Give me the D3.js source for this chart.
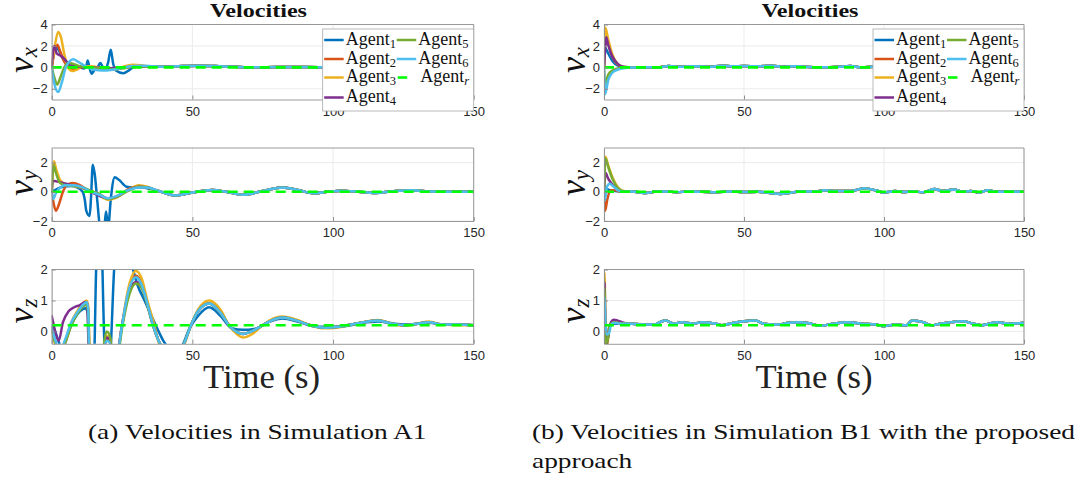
<!DOCTYPE html>
<html><head><meta charset="utf-8">
<script src="https://cdn.jsdelivr.net/npm/d3@7"></script>
<style>html,body{margin:0;padding:0;background:#fff;overflow:hidden}</style>
</head><body>
<script>
// ---------------- DATA ----------------
const xTicks = [0, 50, 100, 150];
const yTicksVx = [-2, 0, 2, 4];
const yTicksVy = [-2, 0, 2];
const yTicksVz = [0, 1, 2];
const legendSubs = ["1", "2", "3", "4", "5", "6", "r"];
const titleText = "Velocities";
const xLabelText = "Time (s)";
const captionA = "(a) Velocities in Simulation A1";
const captionB1 = "(b) Velocities in Simulation B1 with the proposed";
const captionB2 = "approach";

// reference agent (dashed green)
const refVx = [[0, 0], [150, 0]];
const refVy = [[0, 0], [150, 0]];
const refVz = [[0, 0.2], [150, 0.2]];

// ---- Simulation A1: v_x ----
const A_vx_tail = [[40,0.05],[45,0.1],[52,0.15],[58,0.12],[65,0.05],[72,0.0],[80,0.03],[90,0.04],[100,0.0],[110,0.02],[120,0.0],[130,0.01],[140,0.0],[150,0.0]];
const A_vx_1 = [[0,0],[0.7,1.2],[1.5,2.0],[2.5,1.6],[4,0.8],[6,0.3],[8,0.1],[10,0],[11.5,-0.1],[12.3,0.1],[12.8,0.65],[13.4,0.0],[14.2,-0.6],[15,-0.3],[16,-0.15],[17.3,0.4],[18,0.1],[19,-0.1],[20,0.4],[21,1.65],[21.8,0.4],[22.8,-0.3],[25.5,-0.55],[27.3,-0.3],[29,0.0],[32,0.1],[36,0.05]];
const A_vx_2 = [[0,0],[0.8,1.2],[2,2.1],[3,1.5],[4.5,0.5],[6,0.0],[7.5,-0.2],[9,-0.1],[12,0.05],[15,0.0],[20,-0.1],[25,0.0],[30,0.1],[35,0.08]];
const A_vx_3 = [[0,0],[1,1.8],[2.3,3.3],[3.3,2.8],[4.5,1.2],[6,-0.1],[7.5,-0.35],[9,-0.2],[11,0.1],[14,0.1],[18,-0.1],[22,-0.2],[26,0.1],[29,0.25],[33,0.15],[37,0.05]];
const A_vx_4 = [[0,0],[0.5,1.5],[1,2.0],[1.8,1.3],[3,1.1],[4.5,0.8],[6,0.3],[7.5,0.1],[10,0.05],[14,0.0],[20,-0.1],[26,0.0],[32,0.1],[37,0.05]];
const A_vx_5 = [[0,0],[1,-1.0],[2,-1.6],[3,-1.0],[4.5,0.0],[6,0.4],[8,0.3],[10,0.1],[14,0.0],[20,-0.2],[25,-0.1],[30,0.1],[36,0.05]];
const A_vx_6 = [[0,0],[1,-1.6],[2.3,-2.3],[3.5,-1.5],[5,0.0],[6.5,0.6],[7.7,0.75],[9.5,0.5],[12,0.1],[15,-0.2],[18,-0.3],[21,-0.25],[24,-0.1],[28,0.1],[32,0.15],[36,0.1]];

// ---- Simulation A1: v_y ----
const A_vy_tail = [[38,0.05],[44,-0.25],[50,-0.05],[57,0.12],[62,0.0],[68,-0.2],[75,0.05],[82,0.3],[88,0.1],[93,-0.1],[98,0.0],[103,0.08],[109,0.0],[115,-0.08],[121,0.03],[128,0.1],[135,0.02],[142,0.0],[150,0.0]];
const A_vy_1 = [[0,0],[2,0.2],[4,0.35],[7,0.4],[9,0.3],[11,0.0],[11.8,-0.6],[12.3,-1.3],[13.5,-1.65],[14,-0.3],[14.6,1.85],[15.3,1.2],[16.2,-0.6],[17.2,-2.4],[18.6,-2.6],[19.3,-1.35],[20.1,-2.4],[21,-0.5],[22.4,1.0],[24,0.8],[26.6,0.35],[29,0.3],[32,0.3],[35,0.2]];
const A_vy_2 = [[0,0],[0.7,-0.8],[1.5,-1.3],[2.5,-0.9],[4,0.0],[5.5,0.5],[7.5,0.6],[10,0.45],[12,0.2],[14,-0.05],[16,-0.1],[18,-0.3],[20,-0.5],[22,-0.4],[25,-0.1],[28,0.25],[31,0.35],[34,0.3]];
const A_vy_3 = [[0,0],[0.8,2.1],[1.5,1.6],[3,0.8],[5,0.5],[8,0.4],[10,0.3],[13,0.1],[16,-0.1],[20,-0.55],[23,-0.4],[27,0.1],[31,0.45],[34,0.35]];
const A_vy_4 = [[0,0],[0.4,0.75],[2,0.7],[4,0.6],[6,0.5],[9,0.4],[12,0.2],[15,-0.1],[20,-0.45],[23,-0.35],[27,0.1],[31,0.35],[34,0.3]];
const A_vy_5 = [[0,0],[0.7,1.8],[1.5,1.3],[3,0.6],[5,0.45],[8,0.4],[11,0.3],[14,0.05],[17,-0.15],[20,-0.5],[23,-0.35],[27,0.05],[31,0.35],[34,0.3]];
const A_vy_6 = [[0,0],[0.5,-0.5],[1.5,-0.1],[3,0.3],[5,0.45],[8,0.45],[11,0.3],[14,0.0],[17,-0.2],[20,-0.45],[23,-0.3],[27,0.1],[31,0.3],[34,0.3]];

// ---- Simulation A1: v_z ----
const A_vz_tailMid = [[38,-0.3],[41,-0.7],[44,-0.8],[47,-0.4],[49.5,0.2],[52,0.65],[56,0.9],[60,0.6],[63,0.2],[66,-0.03],[68,-0.08],[71,0.0],[75,0.2],[78,0.35],[82,0.45],[87,0.35],[92,0.2],[97,0.12],[102,0.15],[108,0.25],[116,0.35],[121,0.25],[125,0.2],[130,0.25],[134,0.3],[139,0.22],[145,0.22],[150,0.2]];
const A_vz_tailBig = [[38,-0.35],[41,-0.8],[44,-0.9],[47,-0.45],[49.5,0.2],[52,0.7],[56,1.0],[60,0.7],[63,0.2],[66,-0.1],[68,-0.2],[71,-0.1],[75,0.2],[78,0.38],[82,0.48],[87,0.38],[92,0.2],[97,0.1],[102,0.13],[108,0.25],[116,0.37],[121,0.25],[125,0.18],[130,0.25],[134,0.32],[139,0.22],[145,0.2],[150,0.2]];
const A_vz_tailSmall = [[38,0.0],[40,-0.35],[43,-0.6],[46,-0.5],[49,0.1],[52,0.5],[56,0.78],[60,0.5],[64,0.1],[68,0.05],[72,0.08],[77,0.3],[82,0.42],[88,0.3],[94,0.15],[98,0.15],[104,0.17],[110,0.27],[116,0.32],[122,0.25],[126,0.22],[131,0.25],[134,0.28],[140,0.22],[145,0.22],[150,0.2]];
const A_vz_1 = [[0,0.2],[1,0.05],[2,-0.2],[3,-0.45],[4,-0.55],[6,0.0],[8,0.4],[10,0.65],[12,0.75],[12.8,0.6],[13.4,-0.7],[15,-0.9],[15.9,2.3],[17.4,3.6],[18.9,-0.6],[20.5,-1.0],[22.4,2.3],[24.5,3.3],[27,2.6],[28.9,2.0],[30.5,1.5],[33,1.0],[35.5,0.5]];
const A_vz_2 = [[0,0.1],[1,-0.25],[2.5,-0.6],[5,-0.3],[7,0.25],[9,0.6],[11,0.85],[12.4,0.92],[13,0.7],[13.4,-0.6],[18,-0.7],[19.6,-0.25],[20.6,-0.3],[21.5,-0.7],[23,-0.8],[25,0.2],[27,1.2],[30,1.8],[32,1.55],[34,0.9],[36,0.2]];
const A_vz_3 = [[0,0.0],[1,-0.35],[2.5,-0.7],[5,-0.3],[7,0.3],[9,0.65],[11,0.9],[12.4,1.0],[13,0.8],[13.5,-0.6],[18,-0.7],[19.7,-0.15],[20.7,-0.2],[21.5,-0.7],[23,-0.8],[25,0.2],[27,1.3],[30,1.95],[32,1.7],[34,1.0],[36.5,0.2]];
const A_vz_4 = [[0,0.5],[0.5,0.3],[1.5,-0.1],[2.5,-0.3],[4,0.3],[6,0.65],[8,0.78],[10,0.85],[12,0.95],[12.6,0.9],[13.2,-0.6],[18,-0.7],[19.6,-0.2],[20.6,-0.25],[21.5,-0.7],[23,-0.8],[25,0.2],[27,1.1],[30,1.6],[32,1.45],[34,0.85],[36,0.2]];
const A_vz_5 = [[0,0.0],[1,-0.3],[2.5,-0.6],[5,-0.3],[7,0.2],[9,0.55],[11,0.8],[12.4,0.85],[13,0.6],[13.4,-0.6],[18,-0.6],[19.5,0.0],[20.5,-0.1],[21.5,-0.6],[23.5,-0.7],[25,0.1],[27,1.0],[30,1.55],[32,1.4],[34,0.85],[36,0.2]];
const A_vz_6 = [[0,0.1],[1,-0.2],[2,-0.45],[3.5,-0.5],[5,-0.2],[7,0.3],[9,0.6],[11,0.85],[12.4,0.95],[13,0.7],[13.3,-0.6],[18,-0.7],[19.5,-0.3],[20.5,-0.35],[21.5,-0.7],[23,-0.8],[25,0.2],[27,1.2],[30,1.75],[32,1.5],[34,0.9],[36,0.2]];

// ---- Simulation B1: v_x ----
const B_vx_tail = [[10,-0.02],[15,0.0],[20,0.02],[23,0.12],[27,0.05],[32,0.1],[38,0.05],[42,0.15],[46,0.1],[50,0.12],[55,0.1],[60,0.15],[64,0.05],[68,0.1],[72,0.05],[78,0.0],[84,0.05],[88,0.12],[92,0.0],[97,0.05],[103,-0.02],[108,0.05],[112,0.0],[118,0.08],[124,0.0],[130,0.05],[136,0.0],[142,0.05],[150,0.0]];
const B_vx_1 = [[0,0],[0.4,1.8],[1.5,1.3],[3,0.6],[5,0.15],[7,0.0]];
const B_vx_2 = [[0,0],[0.5,3.0],[1.5,2.2],[3,1.0],[5,0.25],[7,0.02]];
const B_vx_3 = [[0,0],[0.5,3.7],[1.5,2.6],[3,1.2],[5,0.3],[7,0.05]];
const B_vx_4 = [[0,0],[0.4,1.7],[0.8,2.8],[1.5,2.1],[3,1.0],[5,0.3],[7,0.05]];
const B_vx_5 = [[0,0],[0.4,-1.5],[1.5,-0.7],[3,-0.3],[5,-0.1],[7.5,0.0]];
const B_vx_6 = [[0,0],[0.4,-2.5],[1.5,-1.2],[3,-0.5],[5,-0.2],[7.5,-0.05]];

// ---- Simulation B1: v_y ----
const B_vy_tail = [[10,0.02],[13,-0.05],[15,-0.08],[18,0],[22,0.02],[26,-0.03],[30,0.02],[35,0],[40,-0.03],[45,0.02],[50,-0.02],[55,0],[60,-0.1],[63,-0.15],[66,-0.08],[70,0.02],[75,0.02],[79,0.1],[83,0.05],[88,0.05],[93,0.25],[97,0.1],[100,-0.05],[104,0.05],[107,-0.02],[110,0.02],[114,-0.03],[118,0.2],[121,0.05],[125,0.15],[128,0],[131,0.05],[134,-0.05],[137,0.1],[140,0],[145,0.02],[150,0]];
const B_vy_1 = [[0,0],[0.4,0.3],[1.5,0.15],[4,0.05],[7,0.0]];
const B_vy_2 = [[0,0],[0.4,-1.3],[1.2,-0.5],[2.5,0.1],[4,0.1],[6,0.0]];
const B_vy_3 = [[0,0],[0.5,2.4],[1.5,1.8],[3,1.0],[5,0.3],[7,0.05]];
const B_vy_4 = [[0,0],[0.5,1.3],[1.5,0.9],[3,0.5],[5,0.15],[7,0.0]];
const B_vy_5 = [[0,0],[0.5,2.3],[1.5,1.7],[3,0.9],[5,0.25],[7,0.03]];
const B_vy_6 = [[0,0],[0.3,-0.6],[1,0.3],[2,0.55],[3.5,0.35],[5,0.1],[7,0.0]];

// ---- Simulation B1: v_z ----
const B_vz_tail = [[10,0.25],[15,0.22],[18,0.22],[20,0.3],[22,0.35],[25,0.25],[28,0.3],[32,0.25],[35,0.3],[40,0.25],[42,0.2],[45,0.25],[50,0.33],[54,0.35],[57,0.25],[62,0.22],[66,0.28],[70,0.3],[74,0.25],[77,0.18],[82,0.25],[87,0.3],[92,0.25],[97,0.22],[100,0.17],[104,0.22],[108,0.2],[110,0.35],[114,0.3],[117,0.2],[120,0.25],[124,0.3],[128,0.33],[132,0.25],[135,0.2],[140,0.3],[145,0.25],[150,0.28]];
const B_vz_1 = [[0,0.3],[0.2,1.1],[0.5,-0.4],[1,-0.5],[1.8,0.1],[3,0.25],[5,0.25],[8,0.22]];
const B_vz_2 = [[0,0.2],[0.2,1.4],[0.5,-0.5],[1.2,-0.3],[2,0.2],[3.5,0.3],[6,0.25]];
const B_vz_3 = [[0,0.3],[0.2,1.9],[0.6,-0.5],[1.2,-0.4],[2,0.15],[3.5,0.3],[6,0.27]];
const B_vz_4 = [[0,0.3],[0.2,1.6],[0.6,-0.5],[1.4,-0.2],[2.5,0.3],[3.5,0.38],[5,0.35],[7,0.28],[9,0.25]];
const B_vz_5 = [[0,0.3],[0.2,1.4],[0.5,-0.4],[1.2,-0.3],[2.2,0.2],[3.5,0.3],[6,0.26]];
const B_vz_6 = [[0,0.2],[0.2,1.1],[0.5,0.2],[1,-0.1],[1.8,-0.05],[2.5,0.2],[3.5,0.28],[6,0.25]];

// ---------------- ASSEMBLY ----------------
const sims = [
  { vx: [A_vx_1,A_vx_2,A_vx_3,A_vx_4,A_vx_5,A_vx_6].map(s => s.concat(A_vx_tail)),
    vy: [A_vy_1,A_vy_2,A_vy_3,A_vy_4,A_vy_5,A_vy_6].map(s => s.concat(A_vy_tail)),
    vz: [A_vz_1.concat(A_vz_tailSmall), A_vz_2.concat(A_vz_tailMid), A_vz_3.concat(A_vz_tailBig),
         A_vz_4.concat(A_vz_tailMid), A_vz_5.concat(A_vz_tailMid), A_vz_6.concat(A_vz_tailMid)] },
  { vx: [B_vx_1,B_vx_2,B_vx_3,B_vx_4,B_vx_5,B_vx_6].map(s => s.concat(B_vx_tail)),
    vy: [B_vy_1,B_vy_2,B_vy_3,B_vy_4,B_vy_5,B_vy_6].map(s => s.concat(B_vy_tail)),
    vz: [B_vz_1,B_vz_2,B_vz_3,B_vz_4,B_vz_5,B_vz_6].map(s => s.concat(B_vz_tail)) }
];
const refs = { vx: refVx, vy: refVy, vz: refVz };

// ---------------- STYLE / LAYOUT ----------------
const colors = ["#0072BD", "#D95319", "#EDB120", "#7E2F8E", "#77AC30", "#4DBEEE"];
const refColor = "#00FF00";
const cols = [
  { x0: 51.7, x1: 473.7, titleX: 258.5, xlabX: 261.5, capX: 88 },
  { x0: 604, x1: 1024, titleX: 810, xlabX: 814, capX: 532 }
];
const rows = [
  { key: "vx", y0: 24.5, y1: 99.5, domain: [-3, 4], ticks: yTicksVx, sub: "x", labY: 60 },
  { key: "vy", y0: 148, y1: 221, domain: [-2, 3], ticks: yTicksVy, sub: "y", labY: 183 },
  { key: "vz", y0: 269.5, y1: 343.8, domain: [-0.4, 2], ticks: yTicksVz, sub: "z", labY: 311 }
];
const SERIF = "Liberation Serif";
const SANS = "Liberation Sans";
const axisColor = "#8f8f8f";
const gridColor = "#ebebeb";

const svg = d3.select("body").append("svg").attr("width", 1080).attr("height", 481);
const defs = svg.append("defs");

cols.forEach((c, ci) => {
  const x = d3.scaleLinear().domain([0, 150]).range([c.x0, c.x1]);
  rows.forEach((r, ri) => {
    const y = d3.scaleLinear().domain(r.domain).range([r.y1, r.y0]);
    const g = svg.append("g");
    // grid
    g.append("g").selectAll("line").data(xTicks).join("line")
      .attr("x1", d => x(d)).attr("x2", d => x(d)).attr("y1", r.y0).attr("y2", r.y1)
      .attr("stroke", gridColor).attr("stroke-width", 1);
    g.append("g").selectAll("line").data(r.ticks).join("line")
      .attr("y1", d => y(d)).attr("y2", d => y(d)).attr("x1", c.x0).attr("x2", c.x1)
      .attr("stroke", gridColor).attr("stroke-width", 1);
    // clip
    const cid = `clip-${ci}-${ri}`;
    defs.append("clipPath").attr("id", cid).append("rect")
      .attr("x", c.x0).attr("y", r.y0).attr("width", c.x1 - c.x0).attr("height", r.y1 - r.y0);
    const line = d3.line().x(d => x(d[0])).y(d => y(d[1])).curve(d3.curveMonotoneX);
    const lg = g.append("g").attr("clip-path", `url(#${cid})`);
    lg.selectAll("path.agent").data(sims[ci][r.key]).join("path")
      .attr("class", "agent")
      .attr("d", d => line(d)).attr("fill", "none")
      .attr("stroke", (d, i) => colors[i]).attr("stroke-width", 2.5)
      .attr("stroke-linejoin", "round").attr("stroke-linecap", "round");
    lg.append("path").attr("d", line(refs[r.key])).attr("fill", "none")
      .attr("stroke", refColor).attr("stroke-width", 2.6).attr("stroke-dasharray", "10,6");
    // box top/right
    g.append("line").attr("x1", c.x0).attr("x2", c.x1).attr("y1", r.y0).attr("y2", r.y0)
      .attr("stroke", axisColor).attr("stroke-width", 0.9);
    g.append("line").attr("x1", c.x1).attr("x2", c.x1).attr("y1", r.y0).attr("y2", r.y1)
      .attr("stroke", axisColor).attr("stroke-width", 0.9);
    // axes
    const ax = g.append("g").attr("transform", `translate(0,${r.y1})`)
      .call(d3.axisBottom(x).tickValues(xTicks).tickFormat(d3.format("d"))
        .tickSizeInner(-4).tickSizeOuter(0).tickPadding(7));
    const ay = g.append("g").attr("transform", `translate(${c.x0},0)`)
      .call(d3.axisLeft(y).tickValues(r.ticks).tickFormat(d3.format("d"))
        .tickSizeInner(-4).tickSizeOuter(0).tickPadding(4));
    [ax, ay].forEach(a => {
      a.select(".domain").attr("stroke", axisColor).attr("stroke-width", 0.9);
      a.selectAll(".tick line").attr("stroke", axisColor);
      a.selectAll(".tick text").attr("fill", "#262626")
        .attr("font-family", SANS).attr("font-size", 13);
    });
    // y label
    const yl = g.append("text")
      .attr("transform", `translate(${c.x0 - 19},${r.labY}) rotate(-90)`)
      .attr("text-anchor", "middle").attr("font-family", SERIF).attr("font-style", "italic")
      .attr("fill", "#111");
    yl.append("tspan").attr("font-size", 36).text("v");
    yl.append("tspan").attr("font-size", 23).attr("dy", 4).text(r.sub);
  });

  // title
  svg.append("text").attr("x", c.titleX).attr("y", 17).attr("text-anchor", "middle")
    .attr("font-family", SERIF).attr("font-weight", "bold").attr("font-size", 18)
    .attr("textLength", 97).attr("lengthAdjust", "spacingAndGlyphs").attr("fill", "#111")
    .text(titleText);
  // x label
  svg.append("text").attr("x", c.xlabX).attr("y", 388).attr("text-anchor", "middle")
    .attr("font-family", SERIF).attr("font-size", 33).attr("fill", "#222")
    .attr("textLength", 117).attr("lengthAdjust", "spacingAndGlyphs")
    .text(xLabelText);

  // legend
  const lx = c.x1 - 151, ly = 29;
  const leg = svg.append("g");
  leg.append("rect").attr("x", lx).attr("y", ly).attr("width", 151).attr("height", 82)
    .attr("fill", "#fff").attr("stroke", "#a8a8a8").attr("stroke-width", 0.8);
  const rowB = [44.5, 63.5, 82, 102];
  const items = legendSubs.map((s, i) => ({ s, i,
    col: i < 4 ? 0 : 1, row: i < 4 ? i : i - 4 }));
  items.forEach(it => {
    const bx = lx + (it.col === 0 ? 1.5 : 74);
    const by = rowB[it.row];
    if (it.i < 6) {
      leg.append("line").attr("x1", bx).attr("x2", bx + 19.5).attr("y1", by - 4.5).attr("y2", by - 4.5)
        .attr("stroke", colors[it.i]).attr("stroke-width", 2.5);
    } else {
      leg.append("line").attr("x1", bx + 1).attr("x2", bx + 10.5).attr("y1", by - 4.5).attr("y2", by - 4.5)
        .attr("stroke", refColor).attr("stroke-width", 2.6);
    }
    const t = leg.append("text").attr("x", bx + (it.i < 6 ? 21.5 : 23.5)).attr("y", by)
      .attr("font-family", SERIF).attr("font-size", 18).attr("fill", "#111");
    t.append("tspan").text("Agent");
    t.append("tspan").attr("dy", 3).attr("font-size", 12.5)
      .attr("font-style", it.s === "r" ? "italic" : "normal").text(it.s);
  });
});

// captions
const capStyle = sel => sel.attr("font-family", SERIF).attr("font-size", 22).attr("fill", "#111");
const cb1 = svg.append("text").attr("x", cols[1].capX).attr("y", 439).call(capStyle).text(captionB1);
const natB1 = cb1.node().getComputedTextLength();
const sc = 543 / natB1;
cb1.attr("textLength", 543).attr("lengthAdjust", "spacingAndGlyphs");
const cb2 = svg.append("text").attr("x", cols[1].capX).attr("y", 468).call(capStyle).text(captionB2);
cb2.attr("textLength", cb2.node().getComputedTextLength() * sc).attr("lengthAdjust", "spacingAndGlyphs");
const ca = svg.append("text").attr("x", cols[0].capX).attr("y", 439).call(capStyle).text(captionA);
ca.attr("textLength", ca.node().getComputedTextLength() * sc).attr("lengthAdjust", "spacingAndGlyphs");
</script>
</body></html>
